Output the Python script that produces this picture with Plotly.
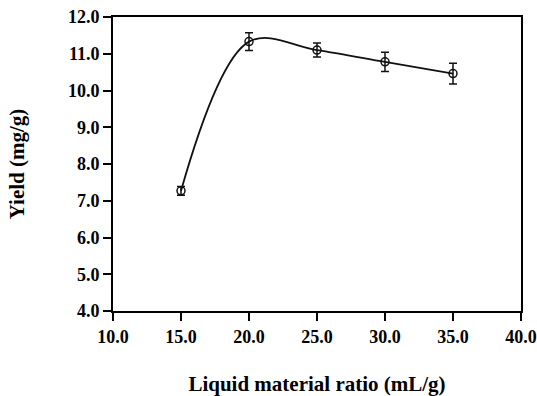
import plotly.graph_objects as go

ratio = [15.0, 20.0, 25.0, 30.0, 35.0]
yield_mg = [7.27, 11.33, 11.10, 10.78, 10.46]
err = [0.12, 0.24, 0.19, 0.26, 0.28]

fam = "Liberation Serif, Times New Roman, serif"

fig = go.Figure()
fig.add_trace(go.Scatter(
    x=ratio, y=yield_mg,
    mode="lines+markers",
    line=dict(color="#111111", width=1.8, shape="spline", smoothing=1.0),
    marker=dict(symbol="circle-open", size=8, color="#111111", line=dict(width=1.5)),
    error_y=dict(type="data", array=err, visible=True, color="#111111", thickness=1.5, width=4),
    showlegend=False,
))

fig.update_layout(
    width=537, height=396,
    margin=dict(l=113, r=16, t=17, b=85),
    paper_bgcolor="white", plot_bgcolor="white",
    font=dict(family=fam, color="black", size=18, weight="bold"),
)
common = dict(
    tickformat=".1f", ticks="outside", ticklen=8, tickwidth=1.8, tickcolor="black",
    showline=True, linecolor="black", linewidth=2, mirror=True,
    showgrid=False, zeroline=False, automargin=False,
)
fig.update_xaxes(range=[10, 40], tickvals=[10, 15, 20, 25, 30, 35, 40],
                 title_text="Liquid material ratio (mL/g)", title_standoff=32,
                 title_font=dict(family=fam, size=21, color="black", weight="bold"),
                 tickfont=dict(family=fam, size=18, color="black", weight="bold"),
                 **common)
fig.update_yaxes(range=[4, 12], tickvals=[4, 5, 6, 7, 8, 9, 10, 11, 12],
                 title_text="Yield (mg/g)", title_standoff=38,
                 title_font=dict(family=fam, size=21, color="black", weight="bold"),
                 tickfont=dict(family=fam, size=18, color="black", weight="bold"),
                 **common)
fig.write_html("out.html")
